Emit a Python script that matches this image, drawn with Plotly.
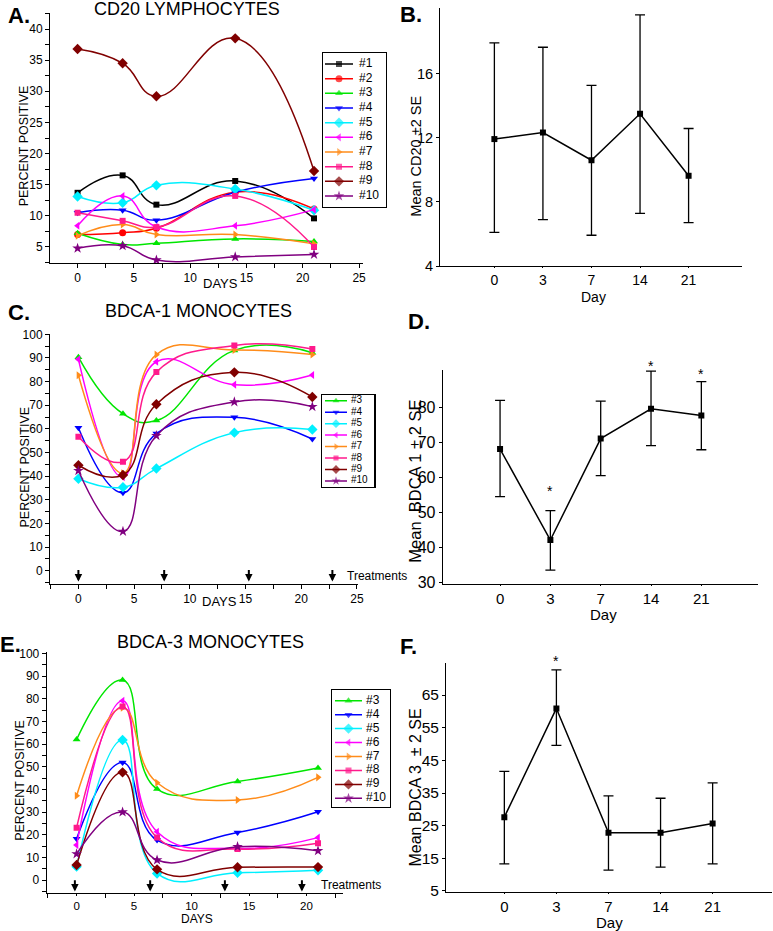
import plotly.graph_objects as go

W, H = 773, 931
FONT = "Liberation Sans, Arial, Helvetica, sans-serif"

# ---------------- data ----------------
days = [0, 4, 7, 14, 21]

# Panel A: CD20 lymphocytes (% positive)
cd20_names = ["#1", "#2", "#3", "#4", "#5", "#6", "#7", "#8", "#9", "#10"]
cd20_s1 = [13.7, 16.5, 11.8, 15.6, 9.6]
cd20_s2 = [7.0, 7.3, 8.0, 13.8, 11.1]
cd20_s3 = [7.2, 5.4, 5.6, 6.3, 5.9]
cd20_s4 = [10.5, 10.9, 9.3, 13.8, 16.0]
cd20_s5 = [13.1, 12.1, 14.9, 14.3, 10.9]
cd20_s6 = [8.4, 13.2, 8.2, 8.4, 11.0]
cd20_s7 = [6.8, 8.6, 7.0, 7.0, 5.5]
cd20_s8 = [10.5, 9.2, 8.2, 13.2, 5.0]
cd20_s9 = [36.8, 34.5, 29.2, 38.5, 17.2]
cd20_s10 = [4.8, 5.2, 2.9, 3.4, 3.8]

# Panel C: BDCA-1 monocytes (% positive)
mono_names = ["#3", "#4", "#5", "#6", "#7", "#8", "#9", "#10"]
bdca1_s3 = [90.3, 66.4, 63.5, 93.2, 92.2]
bdca1_s4 = [60.5, 33.0, 58.0, 64.9, 55.7]
bdca1_s5 = [38.9, 35.3, 43.2, 58.4, 59.7]
bdca1_s6 = [89.4, 39.5, 88.4, 78.7, 82.8]
bdca1_s7 = [82.7, 41.2, 91.4, 93.4, 91.5]
bdca1_s8 = [56.7, 46.1, 84.0, 95.3, 93.8]
bdca1_s9 = [44.6, 40.5, 70.4, 83.9, 73.5]
bdca1_s10 = [42.3, 16.6, 57.1, 71.4, 69.4]
bdca1_treatments = [0, 7.7, 15.3, 22.8]

# Panel E: BDCA-3 monocytes (% positive)
bdca3_s3 = [62.0, 88.2, 40.1, 43.5, 49.4]
bdca3_s4 = [18.2, 51.8, 17.6, 21.0, 30.1]
bdca3_s5 = [5.9, 61.8, 2.9, 3.2, 4.3]
bdca3_s6 = [15.4, 79.1, 21.3, 14.0, 18.7]
bdca3_s7 = [37.2, 76.0, 42.9, 35.3, 45.3]
bdca3_s8 = [23.1, 76.5, 18.7, 13.7, 16.2]
bdca3_s9 = [6.6, 47.5, 4.7, 5.6, 5.7]
bdca3_s10 = [11.5, 30.0, 8.8, 14.7, 12.9]
bdca3_treatments = [-0.15, 6.4, 12.9, 19.6]

# Summary panels (mean and +/- 2 SE limits)
day_labels = ["0", "3", "7", "14", "21"]
cd20_mean = [11.92, 12.33, 10.6, 13.5, 9.63]
cd20_upper = [17.92, 17.65, 15.27, 19.67, 12.58]
cd20_lower = [6.1, 6.9, 5.92, 7.29, 6.71]

bdca1_mean = [68.2, 42.2, 71.2, 79.7, 77.8]
bdca1_upper = [82.1, 50.6, 81.9, 90.5, 87.5]
bdca1_lower = [54.6, 33.6, 60.6, 69.2, 68.0]
bdca1_star_idx = [1, 3, 4]
bdca1_star_y = [57.4, 93.0, 90.8]

bdca3_mean = [27.6, 60.9, 22.8, 22.8, 25.7]
bdca3_upper = [41.6, 72.7, 34.1, 33.4, 38.1]
bdca3_lower = [13.3, 49.6, 11.4, 12.3, 13.3]
bdca3_star_idx = [1]
bdca3_star_y = [76.7]

# ---------------- styles ----------------
STYLE = {
    "#1": ("#000000", "square", 6),
    "#2": ("#ff0000", "circle", 7),
    "#3": ("#00e600", "triangle-up", 7),
    "#4": ("#0000ff", "triangle-down", 7),
    "#5": ("#00f0ff", "diamond", 8),
    "#6": ("#ff00ff", "triangle-left", 7),
    "#7": ("#ff8c1a", "triangle-right", 7),
    "#8": ("#ff1a8c", "square", 6),
    "#9": ("#800000", "diamond", 8),
    "#10": ("#800080", "star", 8),
}


def xd(a, b):
    return [a / W, b / W]


def yd(top, bottom):
    return [1 - bottom / H, 1 - top / H]


fig = go.Figure()


def add_series(names, series, xa, ya):
    for nm, vals in zip(names, series):
        col, sym, sz = STYLE[nm]
        fig.add_trace(go.Scatter(
            x=days, y=vals, xaxis=xa, yaxis=ya, mode="lines+markers",
            line=dict(color=col, width=1.5, shape="spline", smoothing=1.3),
            marker=dict(color=col, symbol=sym, size=sz, line=dict(width=0)),
            showlegend=False, hoverinfo="skip"))


def add_legend(names, xa, ya, first_y, step, x0, x1, tx, fsize, msc=1.0):
    for i, nm in enumerate(names):
        col, sym, sz = STYLE[nm]
        yy = first_y + i * step
        fig.add_trace(go.Scatter(
            x=[x0, (x0 + x1) / 2, x1], y=[yy] * 3, xaxis=xa, yaxis=ya,
            mode="lines+markers",
            line=dict(color=col, width=1.5),
            marker=dict(color=col, symbol=sym, size=[0, sz * msc, 0], line=dict(width=0)),
            showlegend=False, hoverinfo="skip"))
    fig.add_trace(go.Scatter(
        x=[tx] * len(names), y=[first_y + i * step for i in range(len(names))],
        xaxis=xa, yaxis=ya, mode="text", text=names, textposition="middle right",
        textfont=dict(size=fsize, color="black", family=FONT),
        showlegend=False, hoverinfo="skip"))


def add_summary(mean, upper, lower, xa, ya):
    fig.add_trace(go.Scatter(
        x=list(range(len(mean))), y=mean, xaxis=xa, yaxis=ya,
        mode="lines+markers",
        line=dict(color="black", width=1.5),
        marker=dict(color="black", symbol="square", size=6, line=dict(width=0)),
        error_y=dict(type="data", symmetric=False,
                     array=[u - m for u, m in zip(upper, mean)],
                     arrayminus=[m - l for m, l in zip(mean, lower)],
                     color="black", thickness=1.3, width=5),
        showlegend=False, hoverinfo="skip"))


add_series(cd20_names, [cd20_s1, cd20_s2, cd20_s3, cd20_s4, cd20_s5,
                        cd20_s6, cd20_s7, cd20_s8, cd20_s9, cd20_s10], "x", "y")
add_series(mono_names, [bdca1_s3, bdca1_s4, bdca1_s5, bdca1_s6, bdca1_s7,
                        bdca1_s8, bdca1_s9, bdca1_s10], "x3", "y3")
add_series(mono_names, [bdca3_s3, bdca3_s4, bdca3_s5, bdca3_s6, bdca3_s7,
                        bdca3_s8, bdca3_s9, bdca3_s10], "x5", "y5")

add_summary(cd20_mean, cd20_upper, cd20_lower, "x2", "y2")
add_summary(bdca1_mean, bdca1_upper, bdca1_lower, "x4", "y4")
add_summary(bdca3_mean, bdca3_upper, bdca3_lower, "x6", "y6")

# legends (axes in pixel units)
add_legend(cd20_names, "x7", "y7", 64, 14.67, 325, 353, 359, 12)
add_legend(mono_names, "x8", "y8", 400.7, 11.47, 325, 347, 351, 10, 0.85)
add_legend(mono_names, "x9", "y9", 700.7, 13.95, 335, 362, 366, 12)

tickfont_s = dict(size=12, color="black", family=FONT)
tickfont_l = dict(size=14.5, color="black", family=FONT)


def line_axis(dom, rng, dtick, mdtick, font, anchor, **kw):
    d = dict(domain=dom, range=rng, showline=True, linecolor="black", linewidth=1,
             ticks="outside", tickcolor="black", ticklen=4, tickwidth=1,
             tickfont=font, showgrid=False, zeroline=False, anchor=anchor,
             automargin=False)
    if dtick is not None:
        d.update(dtick=dtick, tick0=0)
    if mdtick is not None:
        d["minor"] = dict(dtick=mdtick, tick0=0, ticks="outside", ticklen=4,
                          tickcolor="black", tickwidth=1, showgrid=False)
    d.update(kw)
    return d


def box_axis(dom, rng, anchor):
    return dict(domain=dom, range=rng, showline=True, linecolor="black", linewidth=1.2,
                mirror=True, showticklabels=False, ticks="", showgrid=False,
                zeroline=False, anchor=anchor, fixedrange=True, automargin=False)


AX = dict(
    # Panel A
    xaxis=line_axis(xd(50, 363), [-2.45, 25.35], 5, 2.5, tickfont_s, "y"),
    yaxis=line_axis(yd(13, 263), [2.43, 42.57], 5, 2.5, tickfont_s, "x"),
    # Panel B
    xaxis2=line_axis(xd(440, 742), [-1.12, 5.1], None, None,
                     dict(size=14, color="black", family=FONT), "y2",
                     tickvals=list(range(len(day_labels))), ticktext=day_labels, ticklen=1),
    yaxis2=line_axis(yd(8, 266), [4, 20.1], None, None, tickfont_l, "x2",
                     tickvals=[4, 8, 12, 16], ticklen=3),
    # Panel C
    xaxis3=line_axis(xd(50, 358), [-2.55, 25.1], 5, 2.5, tickfont_s, "y3"),
    yaxis3=line_axis(yd(334.3, 583.7), [-5.5, 100], 10, 5, tickfont_s, "x3"),
    # Panel D
    xaxis4=line_axis(xd(442.7, 757.7), [-1.14, 5.12], None, None,
                     dict(size=15, color="black", family=FONT), "y4",
                     tickvals=list(range(len(day_labels))), ticktext=day_labels, ticklen=1),
    yaxis4=line_axis(yd(370, 584.3), [29.55, 90.8], None, None,
                     dict(size=16, color="black", family=FONT), "x4",
                     tickvals=[30, 40, 50, 60, 70, 80], ticklen=3),
    # Panel E
    xaxis5=line_axis(xd(46.7, 343.3), [-2.6, 23.2], 5, 2.5,
                     dict(size=11.5, color="black", family=FONT), "y5", ticklen=2),
    yaxis5=line_axis(yd(652, 892.7), [-5.6, 100.6], 10, 5, tickfont_s, "x5"),
    # Panel F
    xaxis6=line_axis(xd(446, 772), [-1.12, 5.14], None, None,
                     dict(size=15, color="black", family=FONT), "y6",
                     tickvals=list(range(len(day_labels))), ticktext=day_labels, ticklen=1),
    yaxis6=line_axis(yd(662.7, 892.3), [4.6, 74.9], None, None,
                     dict(size=15.5, color="black", family=FONT), "x6",
                     tickvals=[5, 15, 25, 35, 45, 55, 65], ticklen=3),
    # legend boxes
    xaxis7=box_axis(xd(323.3, 386), [323.3, 386], "y7"),
    yaxis7=box_axis(yd(53.3, 206.7), [206.7, 53.3], "x7"),
    xaxis8=box_axis(xd(321.7, 374.3), [321.7, 374.3], "y8"),
    yaxis8=box_axis(yd(395, 486.7), [486.7, 395], "x8"),
    xaxis9=box_axis(xd(331.7, 390), [331.7, 390], "y9"),
    yaxis9=box_axis(yd(690, 806.7), [806.7, 690], "x9"),
)

fig.update_layout(
    template="none",
    width=W, height=H, margin=dict(l=0, r=0, t=0, b=0, pad=0), autosize=False,
    paper_bgcolor="white", plot_bgcolor="rgba(0,0,0,0)", showlegend=False,
    font=dict(family=FONT, color="black"),
    **AX,
)


def to_paper_y(axname, v):
    a = AX[axname]
    d0, d1 = a["domain"]
    r0, r1 = a["range"]
    return d0 + (v - r0) / (r1 - r0) * (d1 - d0)


anns = []


def txt(text, x, y, size, bold=False, angle=0):
    anns.append(dict(text=("<b>%s</b>" % text) if bold else text,
                     x=x / W, y=1 - y / H, xref="paper", yref="paper",
                     xanchor="center", yanchor="middle", showarrow=False,
                     textangle=angle, font=dict(size=size, color="black", family=FONT)))


# Panel A
txt("A.", 19, 15.5, 22, bold=True)
txt("CD20 LYMPHOCYTES", 187, 9, 18)
txt("PERCENT POSITIVE", 24.3, 146, 12.5, angle=-90)
txt("DAYS", 220, 283, 13)
# Panel B
txt("B.", 411, 14.5, 22, bold=True)
txt("Mean CD20 ±2 SE", 415.7, 156, 14.5, angle=-90)
txt("Day", 593.5, 297, 14)
# Panel C
txt("C.", 18.5, 312, 22, bold=True)
txt("BDCA-1 MONOCYTES", 198.3, 311, 18)
txt("PERCENT POSITIVE", 24, 467.5, 12.5, angle=-90)
txt("DAYS", 219, 601, 13)
txt("Treatments", 377, 575.8, 12)
# Panel D
txt("D.", 418.5, 321, 22, bold=True)
txt("Mean  BDCA 1 ± 2 SE", 415, 481.7, 16.5, angle=-90)
txt("Day", 603.3, 614, 15)
# Panel E
txt("E.", 10, 644.5, 22, bold=True)
txt("BDCA-3 MONOCYTES", 211, 642, 18)
txt("PERCENT POSITIVE", 20, 780.8, 12.5, angle=-90)
txt("DAYS", 197, 919, 12)
txt("Treatments", 350.8, 885, 12)
# Panel F
txt("F.", 408, 646.7, 22, bold=True)
txt("Mean BDCA 3  ± 2 SE", 415, 787.5, 16, angle=-90)
txt("Day", 609.7, 922.5, 15)

# asterisks (positioned via the axis scale, in paper coords so they are never hidden)
for i, yv in zip(bdca1_star_idx, bdca1_star_y):
    anns.append(dict(text="*", x=i, y=to_paper_y("yaxis4", yv), xref="x4", yref="paper",
                     showarrow=False, yshift=-4, yanchor="middle",
                     font=dict(size=14, color="black", family=FONT)))
for i, yv in zip(bdca3_star_idx, bdca3_star_y):
    anns.append(dict(text="*", x=i, y=to_paper_y("yaxis6", yv), xref="x6", yref="paper",
                     showarrow=False, yshift=-4, yanchor="middle",
                     font=dict(size=14, color="black", family=FONT)))

# treatment arrows
for d in bdca1_treatments:
    anns.append(dict(text="", x=d, y=-4.6, xref="x3", yref="y3", ax=d, ay=0.9,
                     axref="x3", ayref="y3", showarrow=True, arrowhead=2,
                     arrowsize=0.75, arrowwidth=2, arrowcolor="black", standoff=0))
for d in bdca3_treatments:
    anns.append(dict(text="", x=d, y=-5.1, xref="x5", yref="y5", ax=d, ay=0.6,
                     axref="x5", ayref="y5", showarrow=True, arrowhead=2,
                     arrowsize=0.75, arrowwidth=2, arrowcolor="black", standoff=0))

fig.update_layout(annotations=anns)
fig.write_html("out.html", config={"displayModeBar": False, "staticPlot": True},
               post_script="document.body.style.margin='0px';document.body.style.padding='0px';")
